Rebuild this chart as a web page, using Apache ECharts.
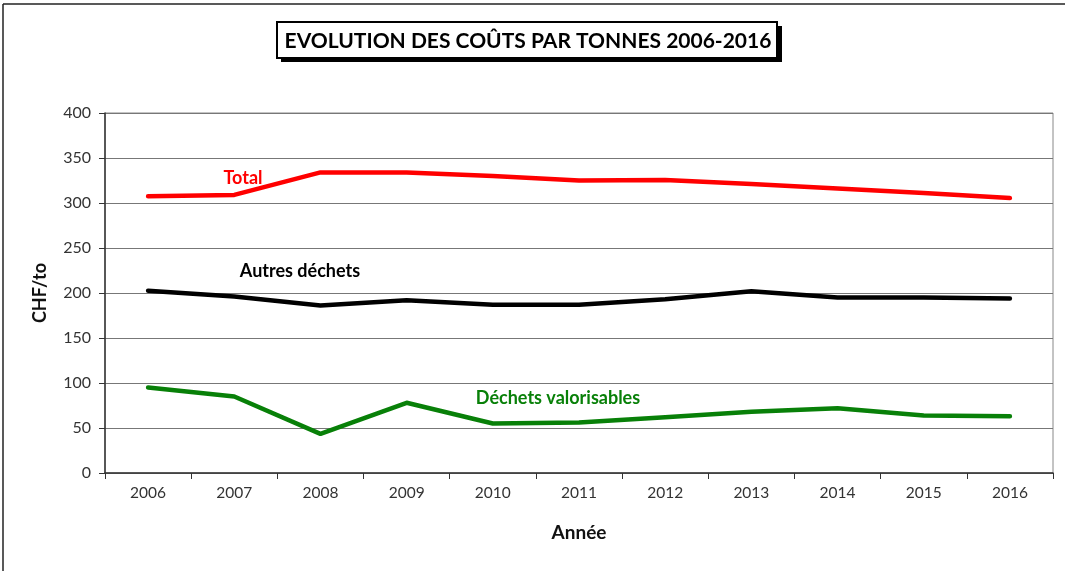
<!DOCTYPE html>
<html>
<head>
<meta charset="utf-8">
<script src="https://cdn.jsdelivr.net/npm/echarts@6/dist/echarts.min.js"></script>
<style>html,body{margin:0;padding:0;background:#fff}#c{width:1065px;height:571px}</style>
</head>
<body>
<div id="c"></div>
<script>
const years = ['2006','2007','2008','2009','2010','2011','2012','2013','2014','2015','2016'];
const total = [307.5, 309, 334, 334, 330, 325, 325.5, 321, 316, 311, 305.5];
const autres = [202.5, 196, 186, 192, 187, 187, 193, 202, 195, 195, 194];
const valorisables = [95, 85, 43.5, 78, 55, 56, 62, 68, 72, 64, 63];
const yTicks = [0, 50, 100, 150, 200, 250, 300, 350, 400];
const title = 'EVOLUTION DES COÛTS PAR TONNES 2006-2016';
const seriesNames = ['Total', 'Autres déchets', 'Déchets valorisables'];

const FONT = 'Lato, "Open Sans", sans-serif';
const chart = echarts.init(document.getElementById('c'), null, {renderer: 'canvas'});
chart.setOption({
  animation: false,
  backgroundColor: '#fff',
  grid: {left: 105, right: 12, top: 113, bottom: 98, show: true, borderColor: '#888', borderWidth: 1},
  xAxis: {
    type: 'category', data: years, boundaryGap: true,
    axisLine: {lineStyle: {color: '#333', width: 1.5}},
    axisTick: {show: true, alignWithLabel: false, length: 6, lineStyle: {color: '#333'}},
    axisLabel: {color: '#333', fontSize: 15.5, fontFamily: FONT, margin: 12},
    name: 'Année', nameLocation: 'middle', nameGap: 50,
    nameTextStyle: {color: '#111', fontSize: 19, fontWeight: 'bold', fontFamily: FONT}
  },
  yAxis: {
    type: 'value', min: yTicks[0], max: yTicks[yTicks.length - 1], interval: 50,
    axisLine: {show: true, lineStyle: {color: '#333', width: 1.5}},
    axisTick: {show: true, length: 6, lineStyle: {color: '#333'}},
    axisLabel: {color: '#333', fontSize: 16, fontFamily: FONT, margin: 14},
    splitLine: {show: true, lineStyle: {color: '#777', width: 1}},
    name: 'CHF/to', nameLocation: 'middle', nameGap: 56, nameRotate: 90,
    nameTextStyle: {color: '#111', fontSize: 18, fontWeight: 'bold', fontFamily: FONT}
  },
  series: [
    {name: seriesNames[0], type: 'line', data: total, symbol: 'none', lineStyle: {color: '#ff0000', width: 4.5, cap: 'round', join: 'round'}},
    {name: seriesNames[1], type: 'line', data: autres, symbol: 'none', lineStyle: {color: '#000000', width: 4.5, cap: 'round', join: 'round'}},
    {name: seriesNames[2], type: 'line', data: valorisables, symbol: 'none', lineStyle: {color: '#088008', width: 4.5, cap: 'round', join: 'round'}}
  ],
  graphic: [
    {type: 'line', shape: {x1: 3, y1: 4, x2: 1065, y2: 4}, style: {stroke: '#222', lineWidth: 1.5}},
    {type: 'line', shape: {x1: 3, y1: 4, x2: 3, y2: 571}, style: {stroke: '#222', lineWidth: 1.5}},
    {type: 'rect', shape: {x: 281, y: 26, width: 501, height: 36}, style: {fill: '#000'}},
    {type: 'rect', shape: {x: 277, y: 22, width: 500, height: 36}, style: {fill: '#fff', stroke: '#000', lineWidth: 2}},
    {type: 'text', x: 528, y: 41, style: {text: title, fill: '#000', font: 'bold 21px ' + FONT, textAlign: 'center', textVerticalAlign: 'middle'}},
    {type: 'text', x: 243, y: 178, style: {text: seriesNames[0], fill: '#ff0000', font: 'bold 18px ' + FONT, textAlign: 'center', textVerticalAlign: 'middle'}},
    {type: 'text', x: 300, y: 271, style: {text: seriesNames[1], fill: '#000', font: 'bold 18px ' + FONT, textAlign: 'center', textVerticalAlign: 'middle'}},
    {type: 'text', x: 558, y: 398, style: {text: seriesNames[2], fill: '#088008', font: 'bold 18px ' + FONT, textAlign: 'center', textVerticalAlign: 'middle'}}
  ]
});
</script>
</body>
</html>
